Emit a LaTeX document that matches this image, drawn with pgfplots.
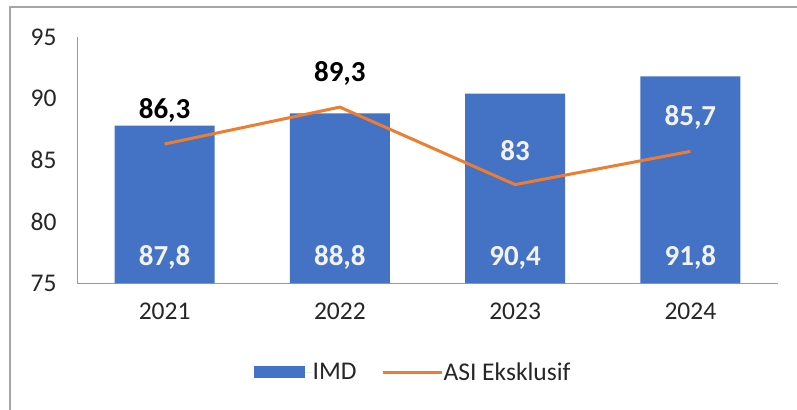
\documentclass[border=0pt]{standalone}
\usepackage{fontspec}
\setmainfont{Carlito}
\usepackage{pgfplots}
\pgfplotsset{compat=1.18}
\definecolor{barblue}{HTML}{4472C4}
\definecolor{lineorange}{HTML}{ED7D31}
\definecolor{labwhite}{HTML}{F2F2F2}
\definecolor{txt}{HTML}{262626}
\begin{document}
\begin{tikzpicture}
\path[use as bounding box] (0bp,0bp) rectangle (797bp,410bp);
\draw[color=black!35, line width=1.2bp] (10bp,0bp) -- (10bp,403bp) -- (797bp,403bp);
\begin{axis}[
  at={(77bp,127bp)}, anchor=south west,
  scale only axis, width=701bp, height=246bp,
  xmin=-0.5, xmax=3.5, ymin=75, ymax=95,
  axis x line*=bottom, axis y line*=left,
  axis line style={draw=black!40, line width=0.8bp},
  xtick={0,1,2,3}, xticklabels={2021,2022,2023,2024},
  ytick={75,80,85,90,95},
  major tick length=0pt,
  tick label style={font=\fontsize{25.5bp}{30bp}\selectfont, text=txt},
  /pgf/number format/assume math mode=true,
  yticklabel style={xshift=-17bp},
  xticklabel style={yshift=-16bp},
  /pgf/number format/use comma,
  legend style={at={(0.478,-0.362)}, anchor=center, draw=none, legend columns=2,
    font=\fontsize{25.5bp}{30bp}\selectfont, text=txt,
    nodes={inner xsep=0pt},
    /tikz/every even column/.append style={column sep=25bp}},
  clip=false,
]
\addplot[ybar, bar width=0.571, fill=barblue, draw=none, bar shift=0pt,
  legend image code/.code={\fill[barblue] (0bp,-6bp) rectangle (51bp,6bp); \path (0bp,0bp) -- (59bp,0bp);}]
  coordinates {(0,87.8) (1,88.8) (2,90.4) (3,91.8)};
\addlegendentry{IMD}
\addplot[color=lineorange, line width=3bp, mark=none,
  legend image code/.code={\draw[lineorange, line width=3bp] (0bp,0bp) -- (54bp,0bp); \path (0bp,0bp) -- (59bp,0bp);}]
  coordinates {(0,86.3) (1,89.3) (2,83) (3,85.7)};
\addlegendentry{ASI Eksklusif}
% bar value labels
\addplot[draw=none, mark=none, forget plot, point meta=explicit,
  nodes near coords, nodes near coords align={center},
  every node near coord/.append style={font=\fontsize{29bp}{34bp}\selectfont\bfseries, text=labwhite,
    /pgf/number format/fixed, /pgf/number format/precision=1, /pgf/number format/use comma}]
  table[meta=m] {
x y m
0 77.05 87.8
1 77.05 88.8
2 77.05 90.4
3 77.05 91.8
};
% line labels (black)
\addplot[draw=none, mark=none, forget plot, point meta=explicit,
  nodes near coords, nodes near coords align={center},
  every node near coord/.append style={font=\fontsize{29bp}{34bp}\selectfont\bfseries, text=black, yshift=34bp,
    /pgf/number format/fixed, /pgf/number format/precision=1, /pgf/number format/use comma}]
  table[meta=m] {
x y m
0 86.3 86.3
1 89.3 89.3
};
% line labels (white)
\addplot[draw=none, mark=none, forget plot, point meta=explicit,
  nodes near coords, nodes near coords align={center},
  every node near coord/.append style={font=\fontsize{29bp}{34bp}\selectfont\bfseries, text=labwhite, yshift=34bp,
    /pgf/number format/fixed, /pgf/number format/precision=1, /pgf/number format/use comma}]
  table[meta=m] {
x y m
2 83 83
3 85.7 85.7
};
\end{axis}
\end{tikzpicture}
\end{document}
